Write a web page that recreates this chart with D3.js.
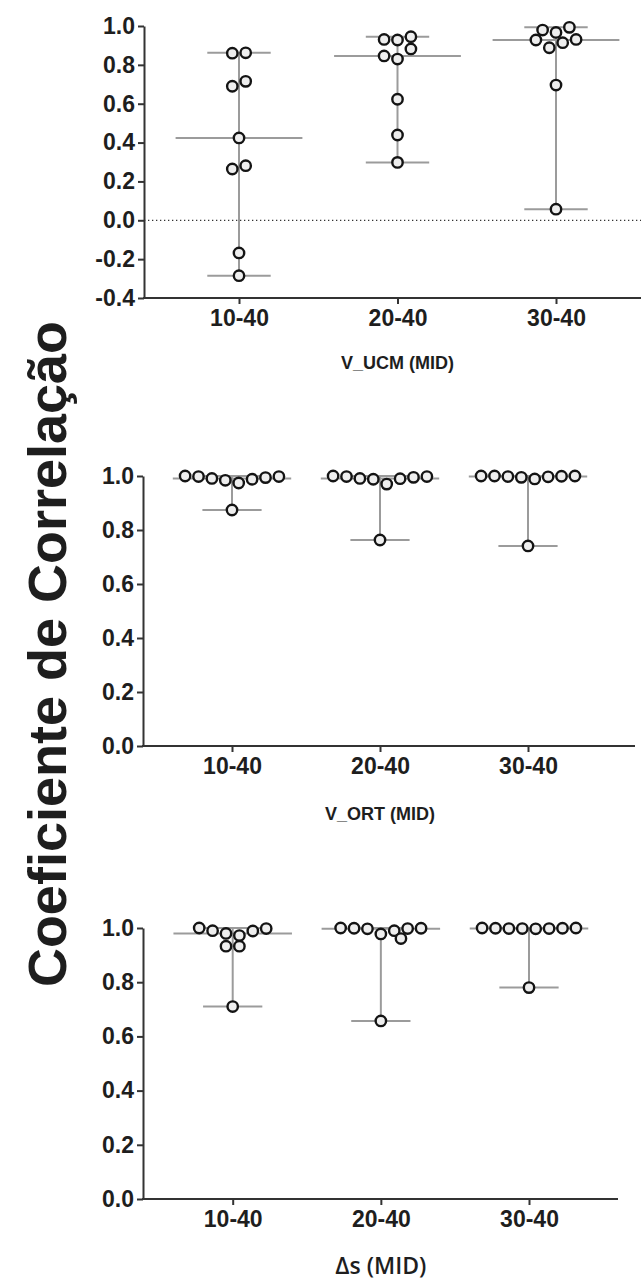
<!DOCTYPE html>
<html>
<head>
<meta charset="utf-8">
<script src="https://cdn.jsdelivr.net/npm/d3@7"></script>
<style>
  body { margin: 0; background: #fff; }
  svg text { font-family: "Liberation Sans", Arial, Helvetica, sans-serif; font-weight: bold; fill: #1e1e1e; }
</style>
</head>
<body>
<div id="box"></div>
<script>
// categories (time windows)
const categories = ["10-40", "20-40", "30-40"];

// correlation coefficients, one array per window
const ucm1040 = [0.862, 0.860, 0.715, 0.690, 0.424, 0.281, 0.264, -0.168, -0.285];
const ucm2040 = [0.945, 0.931, 0.928, 0.882, 0.846, 0.830, 0.623, 0.439, 0.298];
const ucm3040 = [0.993, 0.979, 0.967, 0.931, 0.928, 0.914, 0.888, 0.696, 0.057];

const ort1040 = [1.000, 0.998, 0.998, 0.994, 0.991, 0.988, 0.984, 0.974, 0.874];
const ort2040 = [1.000, 0.998, 0.998, 0.995, 0.991, 0.990, 0.988, 0.970, 0.763];
const ort3040 = [1.000, 1.000, 1.000, 0.999, 0.998, 0.997, 0.995, 0.989, 0.741];

const ds1040 = [1.000, 0.998, 0.990, 0.989, 0.980, 0.972, 0.933, 0.933, 0.710];
const ds2040 = [1.000, 0.999, 0.999, 0.998, 0.997, 0.990, 0.978, 0.961, 0.657];
const ds3040 = [1.000, 1.000, 0.999, 0.999, 0.998, 0.998, 0.998, 0.997, 0.780];

// tick values
const ticksUcm = [-0.4, -0.2, 0.0, 0.2, 0.4, 0.6, 0.8, 1.0];
const ticksUnit = [0.0, 0.2, 0.4, 0.6, 0.8, 1.0];

const yLabel = "Coeficiente de Correlação";

const W = 641, H = 1282;
const slot = 13.4;     // horizontal spacing of circles in a row
const rowGap = 10.5;   // px: points closer than this share a row

const svg = d3.select('#box').append('svg')
    .attr('width', W)
    .attr('height', H);

const fmt = v => d3.format('.1f')(v).replace('\u2212', '-');

// simple row based swarm, like the scatter layout in the original
function swarm(vals, y, side) {
    const pts = vals.map(v => ({ v: v, y: y(v) })).sort((a, b) => a.y - b.y);
    const rows = [];
    let cur = null;
    pts.forEach(p => {
        if (cur && p.y - cur[0].y < rowGap) cur.push(p);
        else { cur = [p]; rows.push(cur); }
    });
    const placed = [];
    rows.forEach(r => {
        const n = r.length;
        const slots = [];
        if (n % 2) {
            slots.push(0);
            for (let k = 1; k <= (n - 1) / 2; k++) slots.push(side * k, -side * k);
        } else {
            for (let k = 0.5; k < n / 2; k++) slots.push(side * k, -side * k);
        }
        r.slice().sort((a, b) => a.v - b.v).forEach((p, i) => { p.s = slots[i]; });
        r.forEach(p => {
            let s = p.s;
            const dir = s === 0 ? side : Math.sign(s);
            while (placed.some(q => Math.hypot((q.s - s) * slot, q.y - p.y) < slot * 0.75)) s += dir * 0.5;
            p.s = s;
            placed.push(p);
        });
    });
    return pts;
}

function drawPanel(p) {
    const g = svg.append('g');
    const y = d3.scaleLinear().domain(p.domain).range([p.bottom, p.top]);
    const x = d3.scalePoint().domain(categories).range([p.first, p.last]);
    const step = x.step();

    if (p.zero) {
        g.append('line')
            .attr('x1', p.axisX).attr('x2', p.axisEnd)
            .attr('y1', y(0)).attr('y2', y(0))
            .attr('stroke', '#333')
            .attr('stroke-width', 1.3)
            .attr('stroke-dasharray', '1.3,2.7');
    }

    categories.forEach((c, i) => {
        const vals = p.values[i];
        const cx = x(c);
        const lo = d3.min(vals), hi = d3.max(vals), med = d3.median(vals);
        const lg = g.append('g').attr('stroke', '#9b9b9b').attr('stroke-width', 2);
        lg.append('line').attr('x1', cx).attr('x2', cx).attr('y1', y(lo)).attr('y2', y(hi));
        lg.append('line').attr('x1', cx - step * 0.2).attr('x2', cx + step * 0.2).attr('y1', y(hi)).attr('y2', y(hi));
        lg.append('line').attr('x1', cx - step * 0.2).attr('x2', cx + step * 0.2).attr('y1', y(lo)).attr('y2', y(lo));
        lg.append('line').attr('x1', cx - step * 0.4).attr('x2', cx + step * 0.4).attr('y1', y(med)).attr('y2', y(med));

        g.append('g').selectAll('circle')
            .data(swarm(vals, y, p.side))
            .join('circle')
            .attr('cx', d => cx + d.s * slot)
            .attr('cy', d => d.y)
            .attr('r', 5.2)
            .attr('fill', '#eeeeee')
            .attr('stroke', '#141414')
            .attr('stroke-width', 2.4);
    });

    const yAxis = d3.axisLeft(y).tickValues(p.ticks).tickFormat(fmt).tickSize(6).tickSizeOuter(0).tickPadding(3);
    const ya = g.append('g')
        .attr('transform', `translate(${p.axisX},0)`)
        .attr('color', '#333')
        .call(yAxis);
    ya.selectAll('path, line').attr('stroke-width', 2);
    ya.attr('font-size', 23).attr('font-family', null);

    const xAxis = d3.axisBottom(x).tickSize(6).tickSizeOuter(0).tickPadding(6);
    const xa = g.append('g')
        .attr('transform', `translate(0,${p.bottom})`)
        .attr('color', '#333')
        .call(xAxis);
    xa.select('.domain').remove();
    xa.append('line')
        .attr('x1', p.axisX - 1).attr('x2', p.axisEnd)
        .attr('stroke', '#333').attr('stroke-width', 2);
    xa.selectAll('line').attr('stroke-width', 2);
    xa.attr('font-size', 23).attr('font-family', null);

    const t = g.append('text')
        .attr('x', (p.first + p.last) / 2)
        .attr('y', p.titleY)
        .attr('text-anchor', 'middle')
        .attr('font-size', p.titleSize)
        .text(p.title);
    if (p.titleFont) t.style('font-family', p.titleFont).style('font-weight', 600);
}

drawPanel({
    values: [ucm1040, ucm2040, ucm3040], domain: [-0.4, 1.0], ticks: ticksUcm,
    top: 26, bottom: 298, axisX: 144, first: 239, last: 556, axisEnd: 641,
    title: 'V_UCM (MID)', titleY: 369, titleSize: 18, side: -1, zero: true
});
drawPanel({
    values: [ort1040, ort2040, ort3040], domain: [0, 1.0], ticks: ticksUnit,
    top: 476, bottom: 746, axisX: 143, first: 232, last: 528, axisEnd: 635,
    title: 'V_ORT (MID)', titleY: 820, titleSize: 18, side: 1
});
drawPanel({
    values: [ds1040, ds2040, ds3040], domain: [0, 1.0], ticks: ticksUnit,
    top: 928, bottom: 1199, axisX: 143, first: 232.7, last: 529, axisEnd: 618,
    title: '\u0394s (MID)', titleY: 1274, titleSize: 23, titleFont: '"Open Sans", "Noto Sans", sans-serif', side: 1
});

svg.append('text')
    .attr('transform', 'translate(66,654) rotate(-90)')
    .attr('text-anchor', 'middle')
    .attr('font-size', 54)
    .text(yLabel);
</script>
</body>
</html>
